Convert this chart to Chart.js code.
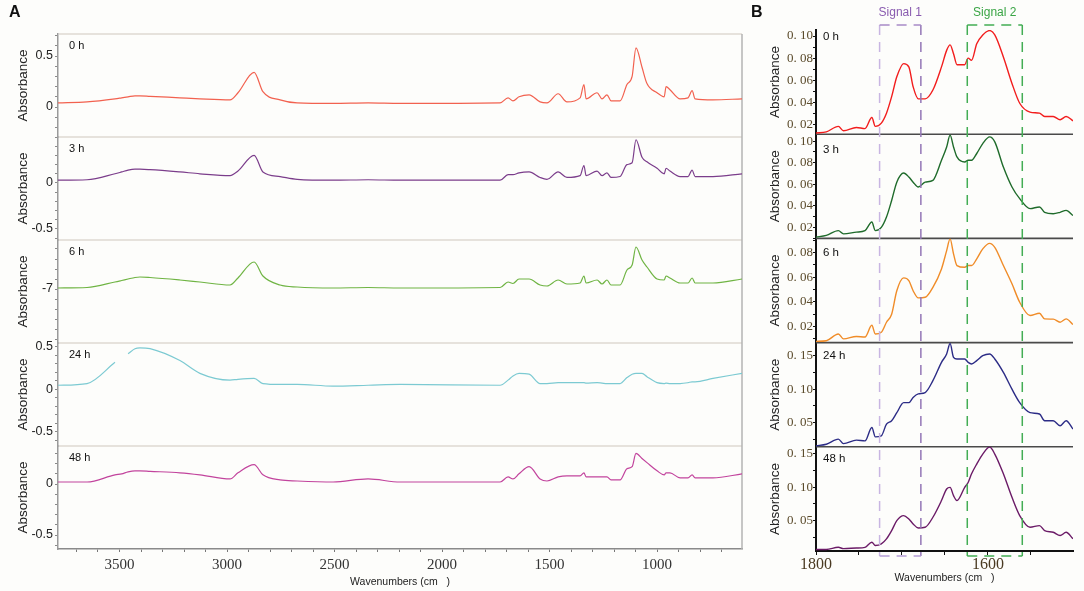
<!DOCTYPE html>
<html><head><meta charset="utf-8">
<script src="https://cdn.jsdelivr.net/npm/chart.js@4.4.1/dist/chart.umd.min.js"></script>
<style>
html,body{margin:0;padding:0;background:#fdfdfb;}
#wrap{position:relative;width:1084px;height:591px;overflow:hidden;background:#fdfdfb;}
canvas{position:absolute;top:0;}
#ca{left:0;} #cb{left:750px;}
</style></head>
<body>
<div id="wrap">
<canvas id="ca" width="750" height="591"></canvas>
<canvas id="cb" width="334" height="591"></canvas>
</div>
<script>
// ---------------- DATA ----------------
const SERIES_NAMES = ['0 h', '3 h', '6 h', '24 h', '48 h'];

// Panel A: full spectra
const WN_A = [3786, 3651, 3521, 3490, 3460, 3428, 3405, 3358, 3219, 3126, 2986, 2949, 2874, 2833, 2753, 2674, 2507, 2344, 2195, 1730, 1693, 1670, 1642, 1595, 1544, 1512, 1460, 1419, 1358, 1340, 1330, 1279, 1256, 1233, 1214, 1172, 1140, 1116, 1098, 1070, 1047, 1000, 967, 958, 940, 893, 856, 837, 823, 740, 605];
const A_0H = [0.04, 0.05, 0.08, 0.09, 0.10, 0.11, 0.11, 0.105, 0.09, 0.08, 0.07, 0.14, 0.34, 0.15, 0.07, 0.04, 0.035, 0.04, 0.035, 0.04, 0.09, 0.06, 0.10, 0.12, 0.05, 0.04, 0.13, 0.05, 0.09, 0.22, 0.08, 0.14, 0.08, 0.12, 0.06, 0.06, 0.22, 0.30, 0.58, 0.39, 0.23, 0.14, 0.10, 0.20, 0.17, 0.08, 0.09, 0.16, 0.08, 0.07, 0.08];
const A_3H = [0.03, 0.035, 0.10, 0.12, 0.14, 0.15, 0.15, 0.145, 0.12, 0.10, 0.08, 0.13, 0.30, 0.12, 0.07, 0.04, 0.03, 0.035, 0.03, 0.03, 0.09, 0.09, 0.11, 0.12, 0.06, 0.04, 0.12, 0.06, 0.08, 0.19, 0.08, 0.13, 0.08, 0.11, 0.06, 0.07, 0.20, 0.22, 0.47, 0.28, 0.23, 0.16, 0.10, 0.16, 0.13, 0.07, 0.07, 0.14, 0.07, 0.07, 0.10];
const A_6H = [-6.99, -6.985, -6.93, -6.915, -6.90, -6.885, -6.88, -6.885, -6.91, -6.93, -6.96, -6.89, -6.73, -6.87, -6.96, -6.98, -6.99, -6.985, -6.99, -6.985, -6.93, -6.945, -6.90, -6.90, -6.96, -6.97, -6.91, -6.95, -6.94, -6.87, -6.94, -6.91, -6.95, -6.91, -6.96, -6.96, -6.81, -6.76, -6.58, -6.71, -6.78, -6.90, -6.91, -6.87, -6.89, -6.94, -6.94, -6.89, -6.94, -6.94, -6.90];
const A_24H = [0.05, 0.07, 0.32, null, 0.42, 0.48, 0.49, 0.48, 0.34, 0.19, 0.11, 0.12, 0.13, 0.07, 0.06, 0.06, 0.04, 0.05, 0.06, 0.05, 0.11, 0.16, 0.19, 0.18, 0.07, 0.07, 0.08, 0.08, 0.08, 0.08, 0.075, 0.08, 0.075, 0.07, 0.07, 0.07, 0.14, 0.18, 0.19, 0.19, 0.15, 0.08, 0.07, 0.075, 0.07, 0.07, 0.08, 0.09, 0.09, 0.13, 0.19];
const A_48H = [0.02, 0.02, 0.09, 0.10, 0.12, 0.13, 0.13, 0.125, 0.11, 0.09, 0.05, 0.11, 0.19, 0.09, 0.04, 0.03, 0.02, 0.05, 0.02, 0.02, 0.07, 0.05, 0.10, 0.17, 0.05, 0.03, 0.07, 0.08, 0.08, 0.11, 0.07, 0.07, 0.07, 0.07, 0.04, 0.04, 0.15, 0.17, 0.30, 0.25, 0.21, 0.13, 0.09, 0.11, 0.11, 0.06, 0.06, 0.09, 0.06, 0.06, 0.10];
const A_X_RANGE = [605, 3786];
const A_X_LABELS = [3500, 3000, 2500, 2000, 1500, 1000];
const A_Y_RANGES = [[-0.294, 0.716], [-0.62, 0.50], [-7.54, -6.51], [-0.665, 0.547], [-0.637, 0.373]];
const A_Y_LABELS = [[0, 0.5], [-0.5, 0], [-7], [-0.5, 0, 0.5], [-0.5, 0]];

// Panel B: 1800-1500 region
const WN_B = [1800, 1788, 1774, 1768, 1753, 1743, 1735, 1731, 1724, 1718, 1712, 1706, 1698, 1692, 1687, 1681, 1673, 1664, 1654, 1648, 1644, 1640, 1636, 1627, 1623, 1619, 1613, 1606, 1598, 1592, 1582, 1572, 1563, 1551, 1540, 1534, 1524, 1516, 1509, 1501];
const B_0H = [0.012, 0.013, 0.018, 0.014, 0.017, 0.016, 0.026, 0.018, 0.021, 0.030, 0.045, 0.063, 0.075, 0.072, 0.054, 0.043, 0.043, 0.051, 0.072, 0.087, 0.092, 0.084, 0.074, 0.074, 0.080, 0.078, 0.093, 0.101, 0.105, 0.101, 0.081, 0.057, 0.039, 0.031, 0.030, 0.027, 0.027, 0.024, 0.027, 0.023];
const B_3H = [0.011, 0.0126, 0.017, 0.014, 0.0156, 0.017, 0.025, 0.017, 0.020, 0.0296, 0.045, 0.062, 0.0705, 0.0668, 0.062, 0.0575, 0.062, 0.0637, 0.0823, 0.0947, 0.1056, 0.0947, 0.0854, 0.0807, 0.0823, 0.0823, 0.0886, 0.0978, 0.104, 0.0994, 0.076, 0.0575, 0.0467, 0.0374, 0.039, 0.034, 0.0327, 0.034, 0.0358, 0.031];
const B_6H = [0.008, 0.0085, 0.014, 0.010, 0.012, 0.0115, 0.021, 0.014, 0.0154, 0.0235, 0.030, 0.049, 0.0594, 0.0572, 0.049, 0.0432, 0.0437, 0.0518, 0.0667, 0.0815, 0.091, 0.0789, 0.0694, 0.068, 0.0694, 0.0694, 0.0748, 0.0829, 0.0874, 0.0842, 0.0694, 0.0546, 0.0397, 0.0289, 0.0308, 0.0262, 0.026, 0.0235, 0.0262, 0.0216];
const B_24H = [0.0157, 0.018, 0.0257, 0.019, 0.0242, 0.023, 0.043, 0.029, 0.0306, 0.048, 0.053, 0.065, 0.080, 0.080, 0.0878, 0.093, 0.095, 0.1127, 0.140, 0.1525, 0.168, 0.1475, 0.145, 0.145, 0.140, 0.1376, 0.1425, 0.150, 0.1525, 0.145, 0.125, 0.100, 0.080, 0.065, 0.063, 0.053, 0.053, 0.0455, 0.053, 0.0406];
const B_48H = [0.0067, 0.0067, 0.010, 0.008, 0.009, 0.010, 0.0176, 0.0127, 0.0152, 0.0227, 0.035, 0.050, 0.0575, 0.0525, 0.045, 0.039, 0.040, 0.055, 0.080, 0.0973, 0.0997, 0.0873, 0.080, 0.0997, 0.107, 0.120, 0.1346, 0.1495, 0.160, 0.1495, 0.120, 0.0848, 0.0575, 0.040, 0.0425, 0.035, 0.0325, 0.0276, 0.0325, 0.0227];
const B_X_RANGE = [1501, 1800];
const B_X_LABELS = [1800, 1600];
const B_Y_RANGES = [[0.0109, 0.1055], [0.0098, 0.1065], [0.007, 0.0914], [0.0142, 0.1694], [0.0045, 0.1604]];
const B_Y_LABELS = [[0.02, 0.04, 0.06, 0.08, 0.10], [0.02, 0.04, 0.06, 0.08, 0.10], [0.02, 0.04, 0.06, 0.08], [0.05, 0.10, 0.15], [0.05, 0.10, 0.15]];

const SIGNAL_1 = [1726, 1678];
const SIGNAL_2 = [1624, 1560];

// ---------------- STYLE ----------------
const COLORS_A = ['#f2614f', '#7b3d8b', '#6fb443', '#7ccad2', '#c2449d'];
const COLORS_B = ['#f21d1d', '#1f6b2b', '#f08c28', '#2c2c86', '#6b1b67'];
const SANS = "'Liberation Sans', Arial, sans-serif";
const SERIF = "'Liberation Serif', 'Times New Roman', serif";
Chart.defaults.font.family = SANS;

const A_SERIES = [A_0H, A_3H, A_6H, A_24H, A_48H];
const B_SERIES = [B_0H, B_3H, B_6H, B_24H, B_48H];

function near(list, v) { return list.some(l => Math.abs(l - v) < 1e-7); }

function pts(xs, ys) { return xs.map((x, i) => ({ x: x, y: ys[i] })); }

function makeYAxisA(i) {
  const [mn, mx] = A_Y_RANGES[i];
  const labels = A_Y_LABELS[i];
  return {
    type: 'linear', position: 'left', stack: 'A', stackWeight: 1,
    min: mn, max: mx, offset: false,
    afterBuildTicks: s => {
      const t = [];
      for (let k = Math.ceil(mn * 10); k <= Math.floor(mx * 10); k++) t.push({ value: k / 10 });
      s.ticks = t;
    },
    afterFit: s => { s.width = 58; },
    ticks: {
      autoSkip: false, padding: 2, color: '#222',
      font: { family: SANS, size: 12.5 },
      callback: v => near(labels, v) ? String(Math.round(v * 10) / 10) : ''
    },
    grid: { drawOnChartArea: false, tickLength: 3, color: '#8a8a8a', lineWidth: 1 },
    border: { color: '#9a9a9a', width: 1.5 },
    title: { display: true, text: 'Absorbance', color: '#222', font: { family: SANS, size: 13.5 }, padding: { top: 15, bottom: 0 } }
  };
}

function makeYAxisB(i) {
  const [mn, mx] = B_Y_RANGES[i];
  const labels = B_Y_LABELS[i];
  const step = (labels[1] - labels[0]) / 2;
  return {
    type: 'linear', position: 'left', stack: 'B', stackWeight: 1,
    min: mn, max: mx, offset: false,
    afterBuildTicks: s => {
      const t = [];
      for (let k = Math.ceil(mn / step - 1e-9); k * step <= mx + 1e-9; k++) t.push({ value: +(k * step).toFixed(4) });
      s.ticks = t;
    },
    afterFit: s => { s.width = 66; },
    ticks: {
      autoSkip: false, padding: 0, color: '#5a4a2a',
      font: { family: SERIF, size: 13 },
      callback: v => near(labels, v) ? v.toFixed(2).replace('.', '. ') : ''
    },
    grid: { drawOnChartArea: false, tickLength: 3, color: '#111', lineWidth: 1 },
    border: { color: '#111', width: 2 },
    title: { display: true, text: 'Absorbance', color: '#222', font: { family: SANS, size: 13.5 }, padding: { top: 17, bottom: 0 } }
  };
}

// ---------------- PANEL A ----------------
const scalesA = {
  x: {
    type: 'linear', position: 'bottom', reverse: true,
    min: A_X_RANGE[0], max: A_X_RANGE[1],
    afterBuildTicks: s => {
      const t = [];
      for (let v = 700; v <= 3700; v += 100) t.push({ value: v });
      s.ticks = t;
    },
    afterFit: s => { s.height = 42; },
    ticks: {
      autoSkip: false, maxRotation: 0, padding: 4, color: '#333',
      font: { family: SERIF, size: 15 },
      callback: v => A_X_LABELS.includes(v) ? String(v) : ''
    },
    grid: { drawOnChartArea: false, tickLength: 3, color: '#777' },
    border: { color: '#8a8a8a', width: 1.5 },
    title: { display: true, text: 'Wavenumbers (cm   )', color: '#222', font: { family: SANS, size: 10.5 }, padding: { top: 0, bottom: 3 } }
  }
};
for (let i = 4; i >= 0; i--) scalesA['a' + i] = makeYAxisA(i);

const plugA = {
  id: 'plugA',
  beforeDatasetsDraw(chart) {
    const ctx = chart.ctx, ca = chart.chartArea;
    ctx.save();
    ctx.strokeStyle = '#e6e2dc'; ctx.lineWidth = 2;
    for (let i = 0; i < 5; i++) {
      const s = chart.scales['a' + i];
      ctx.beginPath(); ctx.moveTo(ca.left + 1, s.top); ctx.lineTo(ca.right, s.top); ctx.stroke();
    }
    ctx.strokeStyle = '#b3b3b3'; ctx.lineWidth = 1.5;
    ctx.beginPath(); ctx.moveTo(ca.right, ca.top); ctx.lineTo(ca.right, ca.bottom); ctx.stroke();
    ctx.fillStyle = '#111'; ctx.font = '11px ' + SANS; ctx.textBaseline = 'middle'; ctx.textAlign = 'left';
    for (let i = 0; i < 5; i++) {
      const s = chart.scales['a' + i];
      ctx.fillText(SERIES_NAMES[i], ca.left + 11, s.top + 12);
    }
    ctx.font = 'bold 16px ' + SANS;
    ctx.fillText('A', 9, 13);
    ctx.restore();
  }
};

new Chart(document.getElementById('ca'), {
  type: 'line',
  data: {
    datasets: A_SERIES.map((ys, i) => ({
      label: SERIES_NAMES[i], data: pts(WN_A, ys), yAxisID: 'a' + i, xAxisID: 'x',
      borderColor: COLORS_A[i], borderWidth: 1.2, pointRadius: 0, fill: false,
      cubicInterpolationMode: 'monotone', spanGaps: false
    }))
  },
  options: {
    responsive: false, animation: false, parsing: true,
    layout: { padding: { top: 34, right: 8, left: 0, bottom: 0 } },
    plugins: { legend: { display: false }, tooltip: { enabled: false } },
    scales: scalesA
  },
  plugins: [plugA]
});

// ---------------- PANEL B ----------------
const scalesB = {
  x: {
    type: 'linear', position: 'bottom', reverse: true,
    min: B_X_RANGE[0], max: B_X_RANGE[1],
    afterBuildTicks: s => {
      const t = [];
      for (let v = 1550; v <= 1800; v += 50) t.push({ value: v });
      s.ticks = t;
    },
    afterFit: s => { s.height = 40; },
    ticks: {
      autoSkip: false, maxRotation: 0, padding: 0, color: '#4a3a22',
      font: { family: SERIF, size: 16 },
      callback: v => B_X_LABELS.includes(v) ? String(v) : ''
    },
    grid: { drawOnChartArea: false, tickLength: 4, color: '#111' },
    border: { color: '#111', width: 2 },
    title: { display: true, text: 'Wavenumbers (cm   )', color: '#222', font: { family: SANS, size: 10.5 }, padding: { top: 0, bottom: 7 } }
  }
};
for (let i = 4; i >= 0; i--) scalesB['b' + i] = makeYAxisB(i);

function dashed(ctx, x1, y1, x2, y2, color) {
  ctx.strokeStyle = color;
  ctx.beginPath(); ctx.moveTo(x1, y1); ctx.lineTo(x2, y2); ctx.stroke();
}

const plugB = {
  id: 'plugB',
  beforeDatasetsDraw(chart) {
    const ctx = chart.ctx, ca = chart.chartArea;
    ctx.save();
    ctx.strokeStyle = '#4a4a4a'; ctx.lineWidth = 1.6;
    for (let i = 1; i < 5; i++) {
      const s = chart.scales['b' + i];
      ctx.beginPath(); ctx.moveTo(ca.left, s.top); ctx.lineTo(ca.right, s.top); ctx.stroke();
    }
    ctx.fillStyle = '#111'; ctx.font = '11.5px ' + SANS; ctx.textBaseline = 'middle'; ctx.textAlign = 'left';
    const offs = [7, 16, 14, 13, 12];
    for (let i = 0; i < 5; i++) {
      const s = chart.scales['b' + i];
      ctx.fillText(SERIES_NAMES[i], ca.left + 7, s.top + offs[i]);
    }
    ctx.font = 'bold 16px ' + SANS;
    ctx.fillText('B', 1, 13);
    ctx.restore();
  },
  afterDatasetsDraw(chart) {
    const ctx = chart.ctx, ca = chart.chartArea, x = chart.scales.x;
    const top = ca.top - 5, bot = ca.bottom + 5;
    ctx.save();
    ctx.lineWidth = 1.5; ctx.setLineDash([10, 7]);
    // Signal 1
    let l = x.getPixelForValue(SIGNAL_1[0]), r = x.getPixelForValue(SIGNAL_1[1]);
    dashed(ctx, l, top, l, bot, '#c8b5e2');
    dashed(ctx, r, top, r, bot, '#9477b6');
    dashed(ctx, l, top, r, top, '#a88bc8');
    dashed(ctx, l, bot, r, bot, '#b49dd6');
    ctx.setLineDash([]);
    ctx.fillStyle = '#8a5cb0'; ctx.font = '12px ' + SANS; ctx.textAlign = 'center'; ctx.textBaseline = 'middle';
    ctx.fillText('Signal 1', (l + r) / 2, 13);
    // Signal 2
    ctx.setLineDash([10, 7]);
    l = x.getPixelForValue(SIGNAL_2[0]); r = x.getPixelForValue(SIGNAL_2[1]);
    dashed(ctx, l, top, l, bot, '#43ad54');
    dashed(ctx, r, top, r, bot, '#43ad54');
    dashed(ctx, l, top, r, top, '#43ad54');
    dashed(ctx, l, bot, r, bot, '#43ad54');
    ctx.setLineDash([]);
    ctx.fillStyle = '#3aa545';
    ctx.fillText('Signal 2', (l + r) / 2, 13);
    ctx.restore();
  }
};

new Chart(document.getElementById('cb'), {
  type: 'line',
  data: {
    datasets: B_SERIES.map((ys, i) => ({
      label: SERIES_NAMES[i], data: pts(WN_B, ys), yAxisID: 'b' + i, xAxisID: 'x',
      borderColor: COLORS_B[i], borderWidth: 1.4, pointRadius: 0, fill: false,
      cubicInterpolationMode: 'monotone'
    }))
  },
  options: {
    responsive: false, animation: false,
    layout: { padding: { top: 30, right: 11, left: 0, bottom: 0 } },
    plugins: { legend: { display: false }, tooltip: { enabled: false } },
    scales: scalesB
  },
  plugins: [plugB]
});
</script>
</body></html>
